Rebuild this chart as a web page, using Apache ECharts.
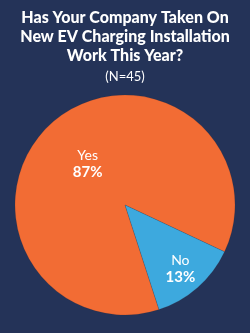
<!DOCTYPE html>
<html>
<head>
<meta charset="utf-8">
<script src="https://cdn.jsdelivr.net/npm/echarts@6/dist/echarts.min.js"></script>
<style>
html,body{margin:0;padding:0;background:#243358;}
#c{width:250px;height:333px;}
</style>
</head>
<body>
<div id="c"></div>
<script>
const titleLines = ['Has Your Company Taken On', 'New EV Charging Installation', 'Work This Year?'];
const subtitle = '(N=45)';
const categories = ['Yes', 'No'];
const values = [87, 13];
const colors = ['#F26C34', '#3DA9DE'];

const chart = echarts.init(document.getElementById('c'), null, {renderer: 'canvas'});
chart.setOption({
  backgroundColor: '#243358',
  title: {
    text: titleLines.join('\n'),
    subtext: subtitle,
    left: 'center',
    top: 3,
    itemGap: 5,
    textStyle: {
      color: '#ffffff',
      fontFamily: 'Lato',
      fontWeight: 900,
      fontSize: 16,
      lineHeight: 19
    },
    subtextStyle: {
      color: '#ffffff',
      fontFamily: 'Lato',
      fontSize: 13
    }
  },
  series: [{
    type: 'pie',
    center: [125, 205],
    radius: 110,
    startAngle: 288,
    clockwise: true,
    animation: false,
    silent: true,
    itemStyle: {borderColor: 'rgba(60,40,40,0.3)', borderWidth: 0.5},
    label: {
      position: 'inside',
      color: '#ffffff',
      fontFamily: 'Lato',
      formatter: p => '{n|' + p.name + '}\n{v|' + Math.round(p.percent) + '%}',
      rich: {
        n: {fontSize: 14, color: '#ffffff', fontFamily: 'Lato', lineHeight: 17},
        v: {fontSize: 15, fontWeight: 'bold', color: '#ffffff', fontFamily: 'Lato', lineHeight: 17}
      }
    },
    labelLine: {show: false},
    labelLayout: p => p.dataIndex === 1 ? {dx: 17, dy: 20} : {dx: 1, dy: 2},
    data: categories.map((c, i) => ({name: c, value: values[i], itemStyle: {color: colors[i]}}))
  }]
});
</script>
</body>
</html>
